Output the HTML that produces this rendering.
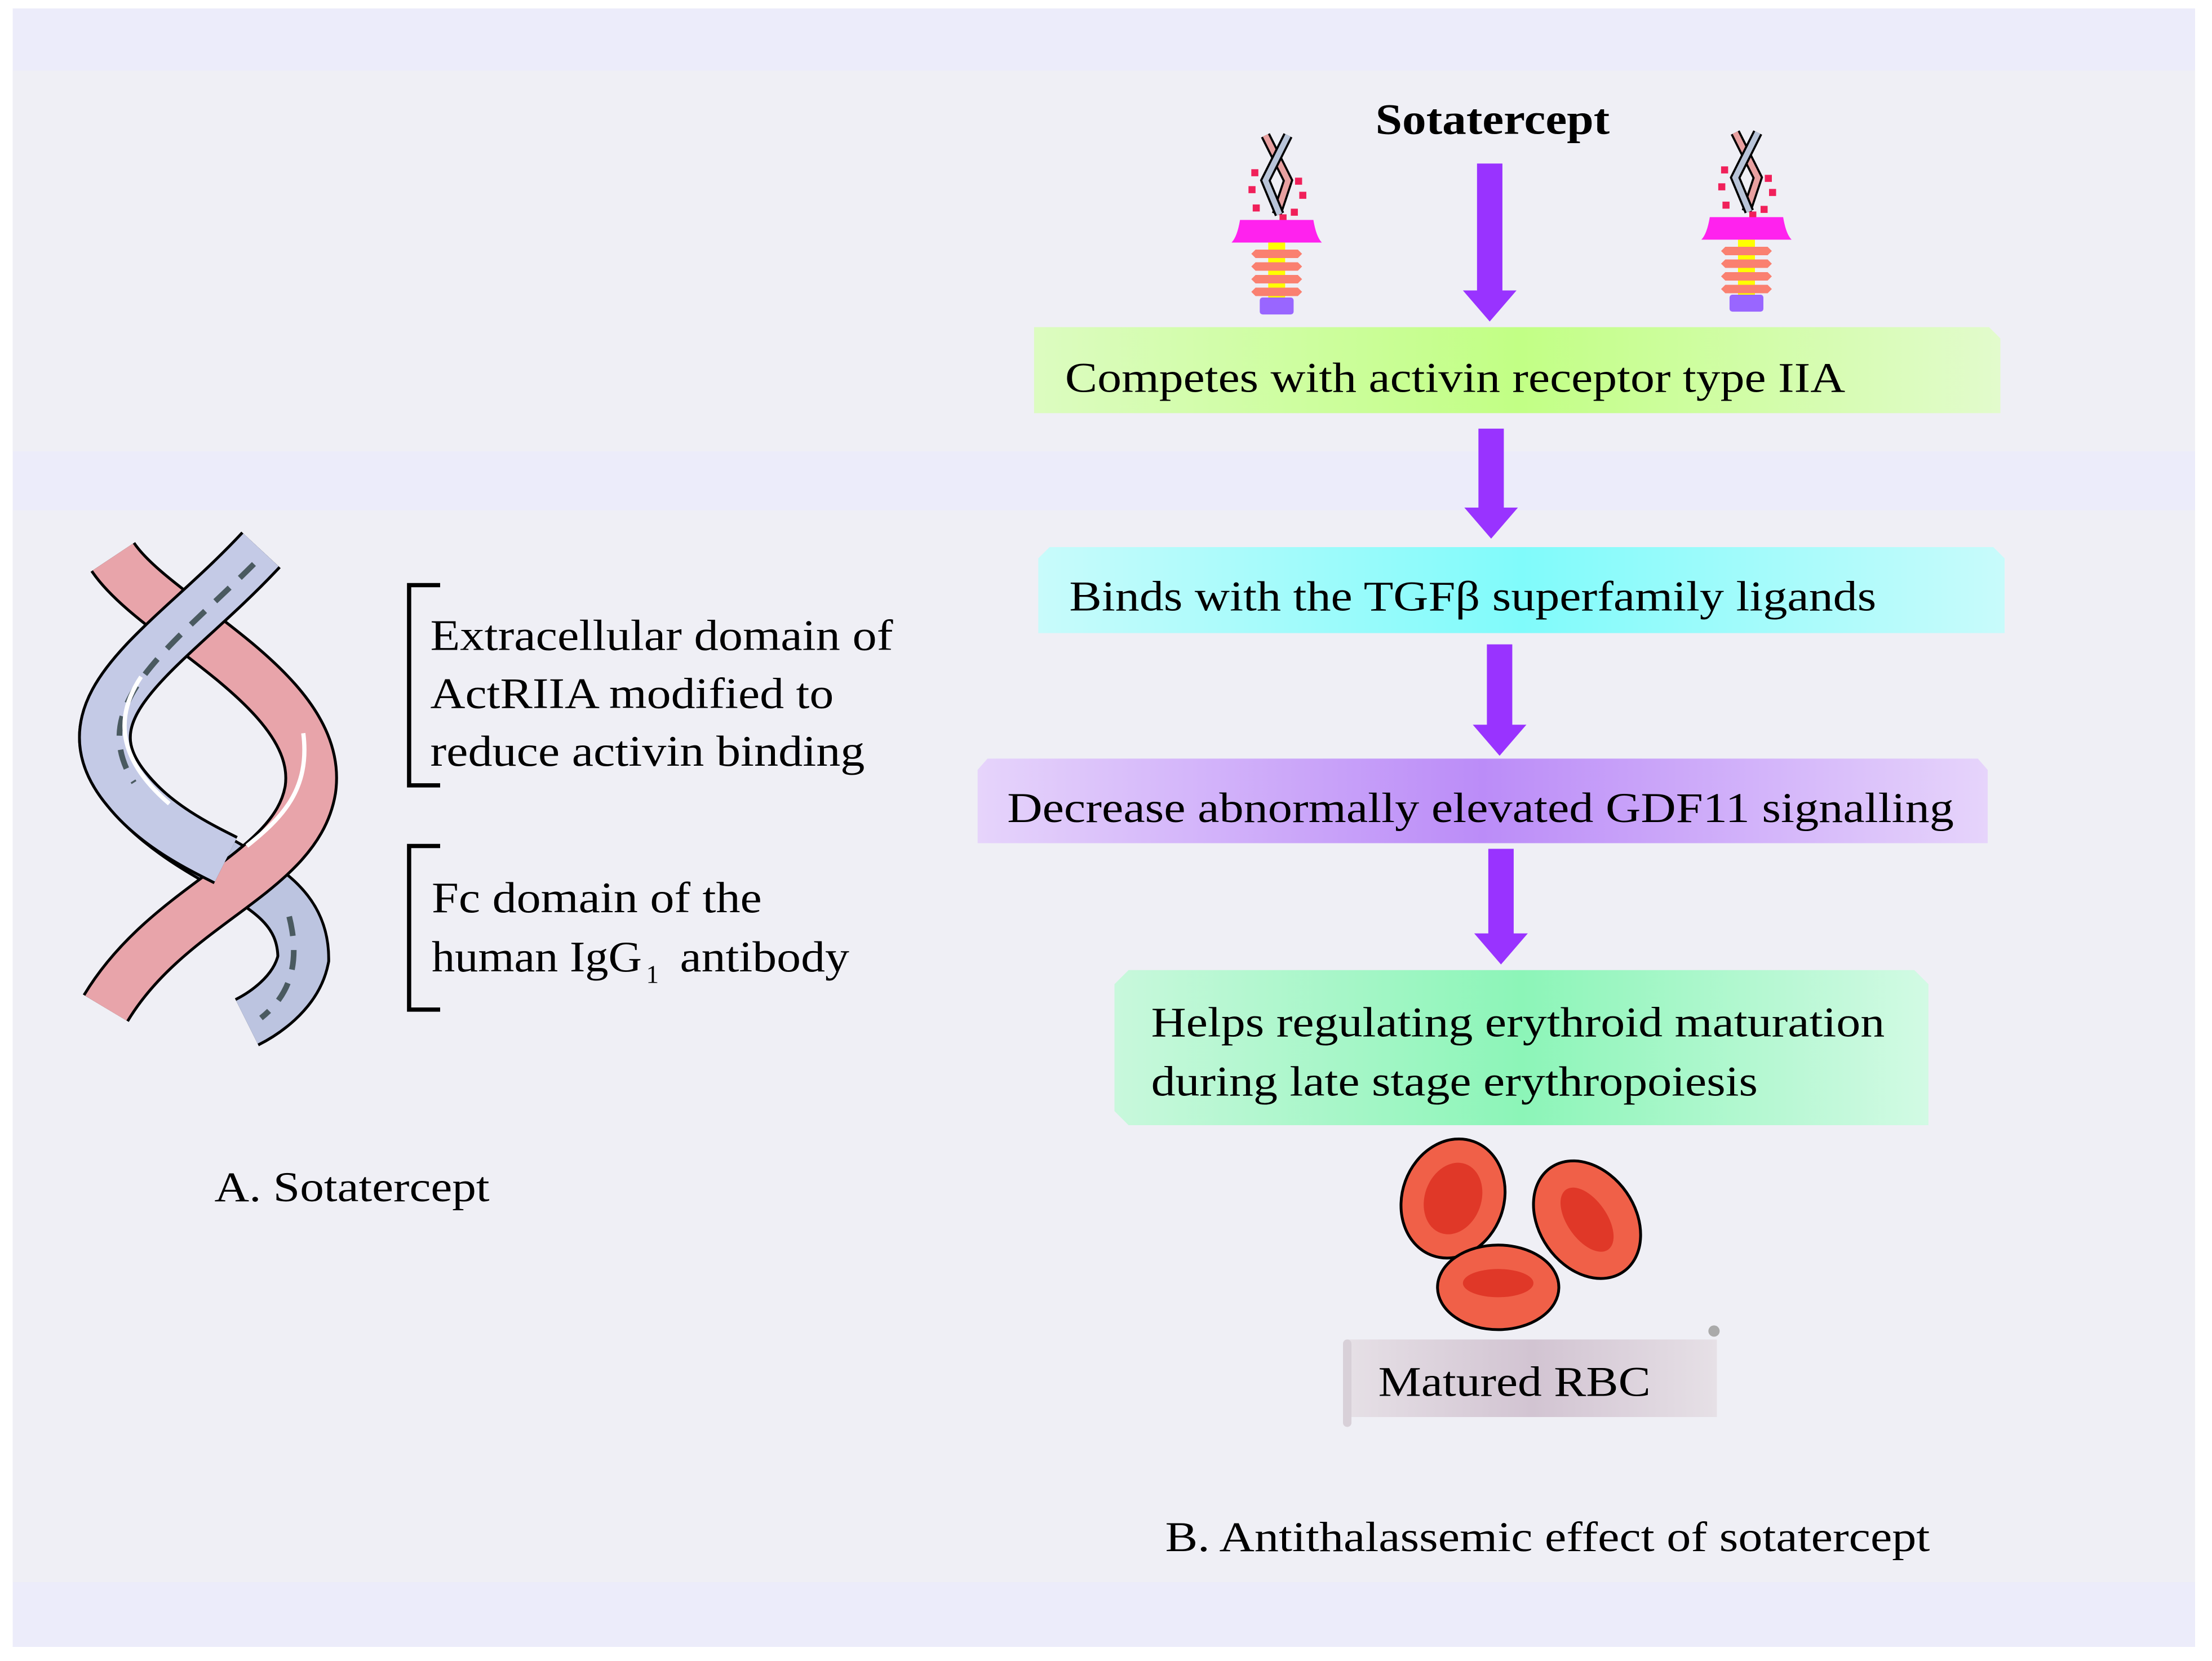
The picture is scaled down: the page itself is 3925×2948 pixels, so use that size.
<!DOCTYPE html>
<html><head><meta charset="utf-8"><style>html,body{margin:0;padding:0;background:#fff}svg{display:block}</style></head>
<body>
<svg width="3925" height="2948" viewBox="0 0 1568 1178" preserveAspectRatio="none" xmlns="http://www.w3.org/2000/svg" font-family="Liberation Serif, serif">
<defs>
<linearGradient id="g1" x1="0" x2="1"><stop offset="0" stop-color="#dcfcc0"/><stop offset="0.5" stop-color="#c2ff85"/><stop offset="1" stop-color="#e2fbcc"/></linearGradient>
<linearGradient id="g2" x1="0" x2="1"><stop offset="0" stop-color="#c8fbfb"/><stop offset="0.5" stop-color="#80fbfb"/><stop offset="1" stop-color="#c8fbfb"/></linearGradient>
<linearGradient id="g3" x1="0" x2="1"><stop offset="0" stop-color="#e6d4fb"/><stop offset="0.5" stop-color="#bb8cf8"/><stop offset="1" stop-color="#e6d4fb"/></linearGradient>
<linearGradient id="g4" x1="0" x2="1"><stop offset="0" stop-color="#c8f8dc"/><stop offset="0.5" stop-color="#8cf5b8"/><stop offset="1" stop-color="#d2fae4"/></linearGradient>
<linearGradient id="g5" x1="0" x2="1"><stop offset="0" stop-color="#e6e0e6"/><stop offset="0.5" stop-color="#d2c4d2"/><stop offset="1" stop-color="#e6e0e6"/></linearGradient>
<g id="rec">
<path d="M-8,-64 l16,32 l-8,24" stroke="#000" stroke-width="7" fill="none"/>
<path d="M-8,-64 l16,32 l-8,24" stroke="#e8a0a0" stroke-width="4" fill="none"/>
<path d="M8,-64 l-16,32 l10,24" stroke="#000" stroke-width="7" fill="none"/>
<path d="M8,-64 l-16,32 l10,24" stroke="#b8c4d8" stroke-width="4" fill="none"/>
<g fill="#f0205a"><rect x="-18" y="-40" width="5" height="5"/><rect x="13" y="-34" width="5" height="5"/><rect x="-20" y="-28" width="5" height="5"/><rect x="16" y="-24" width="5" height="5"/><rect x="-17" y="-15" width="5" height="5"/><rect x="10" y="-12" width="5" height="5"/><rect x="2" y="-8" width="5" height="5"/></g>
<path d="M-32,12 q4,-4 6,-16 l52,0 q2,12 6,16 z" fill="#ff22ee"/>
<rect x="-6" y="12" width="12" height="40" fill="#ffff00"/>
<g fill="#fa8070"><path d="M-15,17 h30 l3,3 l-3,3 h-30 l-3,-3z"/><path d="M-15,26 h30 l3,3 l-3,3 h-30 l-3,-3z"/><path d="M-15,35 h30 l3,3 l-3,3 h-30 l-3,-3z"/><path d="M-15,44 h30 l3,3 l-3,3 h-30 l-3,-3z"/></g>
<rect x="-12" y="51" width="24" height="12" rx="2" fill="#9966ff"/>
</g>
</defs>
<rect x="0" y="0" width="1568" height="1178" fill="#fff"/>
<rect x="9" y="6" width="1547" height="1162" fill="#efeff5"/>
<rect x="9" y="6" width="1547" height="44" fill="#ececfa"/>
<rect x="9" y="320" width="1547" height="42" fill="#ececfa"/>
<rect x="9" y="1122" width="1547" height="46" fill="#ececfa"/>

<text x="975" y="95" font-size="31" font-weight="bold" textLength="166" lengthAdjust="spacingAndGlyphs">Sotatercept</text>
<use href="#rec" x="905" y="160"/>
<use href="#rec" x="1238" y="158"/>

<g fill="#9933ff">
<path d="M1047,116 h18 v90 h10 l-19,22 l-19,-22 h10 z"/>
<path d="M1048,304 h18 v56 h10 l-19,22 l-19,-22 h10 z"/>
<path d="M1054,457 h18 v57 h10 l-19,22 l-19,-22 h10 z"/>
<path d="M1055,602 h18 v60 h10 l-19,22 l-19,-22 h10 z"/>
</g>

<path d="M733,232 h677 l8,8 v53 h-685 z" fill="url(#g1)"/>
<text x="755" y="278" font-size="30" textLength="553" lengthAdjust="spacingAndGlyphs">Competes with activin receptor type IIA</text>
<path d="M744,388 h669 l8,8 v53 h-685 v-53 z" fill="url(#g2)"/>
<text x="758" y="433" font-size="30" textLength="572" lengthAdjust="spacingAndGlyphs">Binds with the TGFβ superfamily ligands</text>
<path d="M700,538 h702 l7,8 v52 h-716 v-52 z" fill="url(#g3)"/>
<text x="714" y="583" font-size="30" textLength="671" lengthAdjust="spacingAndGlyphs">Decrease abnormally elevated GDF11 signalling</text>
<path d="M800,688 h557 l10,10 v100 h-567 l-10,-10 v-90 z" fill="url(#g4)"/>
<text x="816" y="735" font-size="30" textLength="520" lengthAdjust="spacingAndGlyphs">Helps regulating erythroid maturation</text>
<text x="816" y="777" font-size="30" textLength="430" lengthAdjust="spacingAndGlyphs">during late stage erythropoiesis</text>

<g stroke="#000" stroke-width="2">
<ellipse cx="1030" cy="850" rx="36" ry="43" transform="rotate(20 1030 850)" fill="#f06048"/>
<ellipse cx="1030" cy="850" rx="20" ry="26" transform="rotate(20 1030 850)" fill="#e03828" stroke="none"/>
<ellipse cx="1125" cy="865" rx="34" ry="45" transform="rotate(-35 1125 865)" fill="#f06048"/>
<ellipse cx="1125" cy="865" rx="14" ry="26" transform="rotate(-35 1125 865)" fill="#e03828" stroke="none"/>
<ellipse cx="1062" cy="913" rx="43" ry="30" fill="#f06048"/>
<ellipse cx="1062" cy="910" rx="25" ry="10" fill="#e03828" stroke="none"/>
</g>

<path d="M955,950 h262 v55 h-262 z" fill="url(#g5)"/>
<rect x="952" y="950" width="6" height="62" rx="3" fill="#d8d0d8"/>
<circle cx="1215" cy="944" r="4" fill="#aaa"/>
<text x="977" y="990" font-size="30" textLength="193" lengthAdjust="spacingAndGlyphs">Matured RBC</text>

<text x="826" y="1100" font-size="30" textLength="542" lengthAdjust="spacingAndGlyphs">B. Antithalassemic effect of sotatercept</text>
<text x="152" y="852" font-size="30" textLength="195" lengthAdjust="spacingAndGlyphs">A. Sotatercept</text>

<path d="M312,415 h-22 v142 h22" stroke="#000" stroke-width="3" fill="none"/>
<path d="M312,600 h-22 v116 h22" stroke="#000" stroke-width="3" fill="none"/>
<text font-size="31" x="305" y="461" textLength="328" lengthAdjust="spacingAndGlyphs">Extracellular domain of</text>
<text font-size="31" x="305" y="502" textLength="286" lengthAdjust="spacingAndGlyphs">ActRIIA modified to</text>
<text font-size="31" x="305" y="543" textLength="308" lengthAdjust="spacingAndGlyphs">reduce activin binding</text>
<text font-size="31" x="306" y="647" textLength="234" lengthAdjust="spacingAndGlyphs">Fc domain of the</text>
<text font-size="31" x="306" y="689" textLength="149" lengthAdjust="spacingAndGlyphs">human IgG</text>
<text font-size="18" x="458" y="697">1</text>
<text font-size="31" x="482" y="689" textLength="120" lengthAdjust="spacingAndGlyphs">antibody</text>

<!-- helix -->
<path d="M185,390 C120,460 40,500 90,560 C140,620 215,620 215,680 C210,705 185,720 175,725" stroke="#000" stroke-width="38" fill="none" stroke-linecap="butt"/>
<path d="M185,390 C120,460 40,500 90,560 C140,620 215,620 215,680 C210,705 185,720 175,725" stroke="#bcc4e0" stroke-width="34" fill="none"/>
<path d="M80,395 C110,440 230,490 220,560 C210,620 120,640 75,715" stroke="#000" stroke-width="38" fill="none"/>
<path d="M80,395 C110,440 230,490 220,560 C210,620 120,640 75,715" stroke="#e8a4aa" stroke-width="34" fill="none"/>
<path d="M185,390 C120,460 40,500 90,560 C110,585 140,600 160,610" stroke="#000" stroke-width="38" fill="none"/>
<path d="M185,390 C120,460 40,500 90,560 C110,585 140,600 160,610" stroke="#c4cae6" stroke-width="34" fill="none"/>
<path d="M180,400 C120,460 60,500 95,555" stroke="#4a5a60" stroke-width="4" fill="none" stroke-dasharray="14 10"/>
<path d="M205,650 C215,690 200,710 185,722" stroke="#4a5a60" stroke-width="4" fill="none" stroke-dasharray="14 10"/>
<path d="M100,480 C80,510 85,540 120,570" stroke="#fff" stroke-width="3" fill="none"/>
<path d="M215,520 C220,560 200,580 175,600" stroke="#fff" stroke-width="3" fill="none"/>
</svg>
</body></html>
